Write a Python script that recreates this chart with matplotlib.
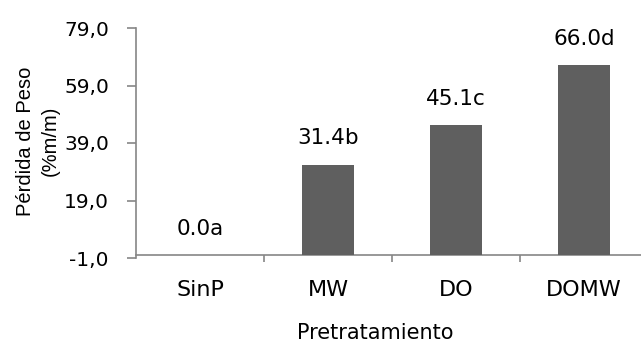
import numpy as np
import matplotlib.pyplot as plt
from matplotlib.ticker import FixedLocator, FuncFormatter

# datos
categorias = ['SinP', 'MW', 'DO', 'DOMW']
perdida = [0.0, 31.4, 45.1, 66.0]
letras = ['a', 'b', 'c', 'd']
yticks = [-1.0, 19.0, 39.0, 59.0, 79.0]

W, H = 641, 343
fig = plt.figure(figsize=(W / 100, H / 100), dpi=100)
plt.rcParams['font.family'] = 'DejaVu Sans'

# ejes: y=-1 a 79 de 258px a 28px, eje y en x=136, 128px por categoria
ax = fig.add_axes([136 / W, (H - 258) / H, 512 / W, 230 / H])
x = np.arange(len(categorias))
ax.bar(x, perdida, width=0.4, color='#5f5f5f', edgecolor='none', zorder=3)
ax.set_xlim(-0.5, 3.5)
ax.set_ylim(-1, 79)

gris = '#868686'
for s in ['top', 'right']:
    ax.spines[s].set_visible(False)
ax.spines['left'].set_color(gris)
ax.spines['bottom'].set_color(gris)
ax.spines['bottom'].set_position(('data', 0))
ax.spines['left'].set_linewidth(1.2)
ax.spines['bottom'].set_linewidth(1.2)

ax.yaxis.set_major_locator(FixedLocator(yticks))
ax.yaxis.set_major_formatter(FuncFormatter(lambda v, p: f'{v:.1f}'.replace('.', ',')))
ax.tick_params(axis='y', length=6.5, width=1.2, color=gris, pad=13, labelsize=14.5)

ax.set_xticks(x)
ax.set_xticklabels(categorias)
ax.set_xticks(x[:-1] + 0.5, minor=True)
ax.tick_params(axis='x', which='major', length=0, pad=18, labelsize=16)
ax.tick_params(axis='x', which='minor', length=5, width=1.2, color=gris)

for xi, v, l in zip(x, perdida, letras):
    ax.annotate(f'{v:.1f}{l}', (xi, v), xytext=(0, 19), textcoords='offset points',
                ha='center', va='center', fontsize=15.5)

fig.text(375 / W, 1 - 333 / H, 'Pretratamiento', ha='center', va='center', fontsize=15)
fig.text(38 / W, 1 - 141 / H, 'Pérdida de Peso\n(%m/m)', rotation=90, ha='center', va='center',
         multialignment='center', fontsize=14.5, family='Liberation Sans', linespacing=1.4)

fig.savefig('out.png', dpi=100)
